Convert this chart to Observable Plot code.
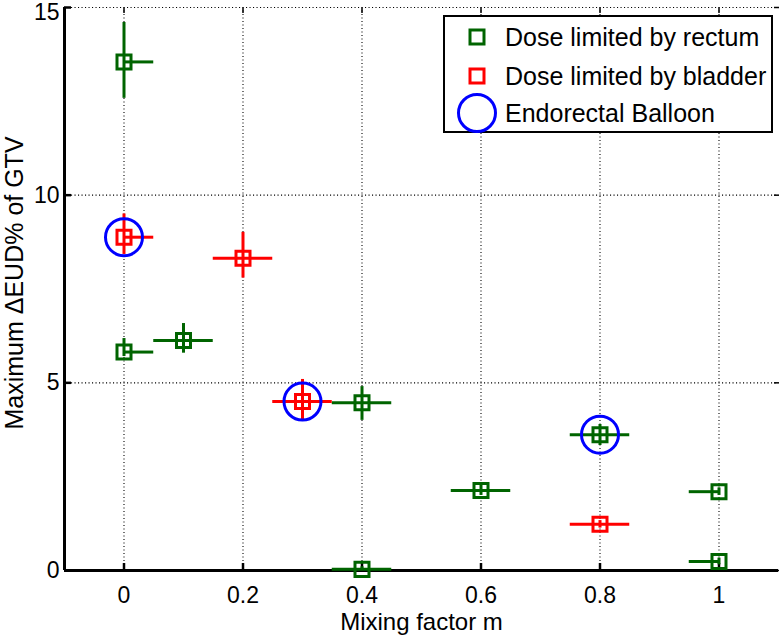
<!DOCTYPE html>
<html>
<head>
<meta charset="utf-8">
<script src="https://cdn.jsdelivr.net/npm/d3@7"></script>
<script src="https://cdn.jsdelivr.net/npm/@observablehq/plot@0.6"></script>
<style>
  html, body { margin: 0; padding: 0; background: #fff; }
  #wrap { position: relative; width: 780px; height: 640px; font-family: "Liberation Sans", Arial, sans-serif; }
  #legend { position: absolute; left: 443px; top: 15px; width: 326px; height: 114px; border: 2.5px solid #000; background: #fff; }
  .row { position: absolute; left: 0; height: 36px; display: flex; align-items: center; }
  .row svg { width: 60px; height: 44px; margin-left: 2px; }
  .row span { font-size: 25px; color: #000; margin-left: -2px; }
</style>
</head>
<body>
<div id="wrap"></div>
<script>
// ---- data ----
const xDomain = [-0.1, 1.1];
const yDomain = [0, 15];
const xTicks = [0, 0.2, 0.4, 0.6, 0.8, 1];
const xTickLabels = ["0", "0.2", "0.4", "0.6", "0.8", "1"];
const yTicks = [0, 5, 10, 15];

// Dose limited by rectum (green)
const rectumM   = [0, 0, 0.1, 0.4, 0.4, 0.6, 0.8, 1, 1];
const rectumV   = [13.55, 5.82, 6.13, 4.47, 0.03, 2.13, 3.62, 2.10, 0.24];
const rectumYlo = [12.58, 5.70, 5.79, 4.00, 0.00, 2.00, 3.33, 2.00, 0.15];
const rectumYhi = [14.60, 6.18, 6.58, 4.90, 0.10, 2.28, 3.89, 2.20, 0.33];
const rectumXlo = [0, 0, 0.05, 0.35, 0.35, 0.55, 0.75, 0.95, 0.95];
const rectumXhi = [0.05, 0.05, 0.15, 0.45, 0.45, 0.65, 0.85, 1, 1];

// Dose limited by bladder (red)
const bladderM   = [0, 0.2, 0.3, 0.8];
const bladderV   = [8.88, 8.32, 4.50, 1.23];
const bladderYlo = [8.42, 7.79, 4.00, 1.13];
const bladderYhi = [9.50, 9.01, 5.09, 1.33];
const bladderXlo = [0, 0.15, 0.25, 0.75];
const bladderXhi = [0.05, 0.25, 0.35, 0.85];

// Endorectal balloon (blue circles)
const balloonM = [0, 0.3, 0.8];
const balloonV = [8.88, 4.50, 3.62];

const legendLabels = ["Dose limited by rectum", "Dose limited by bladder", "Endorectal Balloon"];
const colors = {rectum: "#006400", bladder: "#ff0000", balloon: "#0000ff"};

const rectum = rectumM.map((m, i) => ({m, v: rectumV[i], ylo: rectumYlo[i], yhi: rectumYhi[i], xlo: rectumXlo[i], xhi: rectumXhi[i]}));
const bladder = bladderM.map((m, i) => ({m, v: bladderV[i], ylo: bladderYlo[i], yhi: bladderYhi[i], xlo: bladderXlo[i], xhi: bladderXhi[i]}));
const balloon = balloonM.map((m, i) => ({m, v: balloonV[i]}));

const errMarks = (data, color) => [
  Plot.ruleX(data, {x: "m", y1: "ylo", y2: "yhi", stroke: color, strokeWidth: 3}),
  Plot.ruleY(data, {y: "v", x1: "xlo", x2: "xhi", stroke: color, strokeWidth: 3}),
  Plot.dot(data, {x: "m", y: "v", symbol: "square", r: 7.9, stroke: color, strokeWidth: 3, fill: "none"})
];

const yTop = yTicks[yTicks.length - 1];
const yTicksLower = yTicks.filter(d => d !== yTop);

const chart = Plot.plot({
  width: 780,
  height: 640,
  marginLeft: 64,
  marginRight: 2,
  marginTop: 7,
  marginBottom: 70,
  style: {fontFamily: "'Liberation Sans', Arial, sans-serif", fontSize: "23px", background: "#fff", color: "#000"},
  x: {domain: xDomain, ticks: xTicks, label: null},
  y: {domain: yDomain, ticks: yTicks, label: null},
  marks: [
    Plot.gridX(xTicks, {stroke: "#000", strokeOpacity: 1, strokeWidth: 1.1, strokeDasharray: "1.1,2.4"}),
    Plot.gridY(yTicks, {stroke: "#000", strokeOpacity: 1, strokeWidth: 1.1, strokeDasharray: "1.1,2.4"}),
    // inward tick marks
    Plot.axisX(xTicks, {anchor: "bottom", tickSize: -7, strokeWidth: 2.5, tickFormat: () => ""}),
    Plot.axisX(xTicks, {anchor: "top", tickSize: -5, strokeWidth: 1.5, tickFormat: () => ""}),
    Plot.axisY(yTicks, {anchor: "left", tickSize: -7, strokeWidth: 2.5, tickFormat: () => ""}),
    Plot.axisY(yTicks, {anchor: "right", tickSize: -5, strokeWidth: 1.5, tickFormat: () => ""}),
    // tick labels
    Plot.axisX(xTicks, {anchor: "bottom", tickSize: 0, tickPadding: 16, tickFormat: (d, i) => xTickLabels[i], fontSize: 23}),
    Plot.axisY(yTicksLower, {anchor: "left", tickSize: 0, tickPadding: 5, fontSize: 23}),
    Plot.axisY([yTop], {anchor: "left", tickSize: 0, tickPadding: 5, fontSize: 23, dy: 5}),
    // axis lines
    Plot.ruleX([xDomain[0]], {stroke: "#000", strokeWidth: 3}),
    Plot.ruleY([yDomain[0]], {stroke: "#000", strokeWidth: 3}),
    ...errMarks(rectum, colors.rectum),
    ...errMarks(bladder, colors.bladder),
    Plot.dot(balloon, {x: "m", y: "v", r: 18.5, stroke: colors.balloon, strokeWidth: 3, fill: "none"}),
    Plot.text(["Mixing factor m"], {frameAnchor: "bottom", textAnchor: "middle", dy: 59, fontSize: 24, fill: "#000"}),
    Plot.text(["Maximum \u0394EUD% of GTV"], {frameAnchor: "left", textAnchor: "middle", dx: -50, dy: -6, rotate: -90, fontSize: 25, fill: "#000"})
  ]
});

const wrap = document.getElementById("wrap");
wrap.appendChild(chart);

// legend (HTML overlay inside the axes, upper right)
const legend = document.createElement("div");
legend.id = "legend";
const rowTops = [2, 41, 78];
const symbols = [
  `<svg viewBox="0 0 60 44"><rect x="23" y="15" width="14" height="14" fill="none" stroke="${colors.rectum}" stroke-width="3"/></svg>`,
  `<svg viewBox="0 0 60 44"><rect x="23" y="15" width="14" height="14" fill="none" stroke="${colors.bladder}" stroke-width="3"/></svg>`,
  `<svg viewBox="0 0 60 44"><circle cx="30" cy="22" r="18.5" fill="none" stroke="${colors.balloon}" stroke-width="3"/></svg>`
];
legendLabels.forEach((t, i) => {
  const row = document.createElement("div");
  row.className = "row";
  row.style.top = rowTops[i] + "px";
  row.innerHTML = symbols[i] + `<span>${t}</span>`;
  legend.appendChild(row);
});
wrap.appendChild(legend);
</script>
</body>
</html>
